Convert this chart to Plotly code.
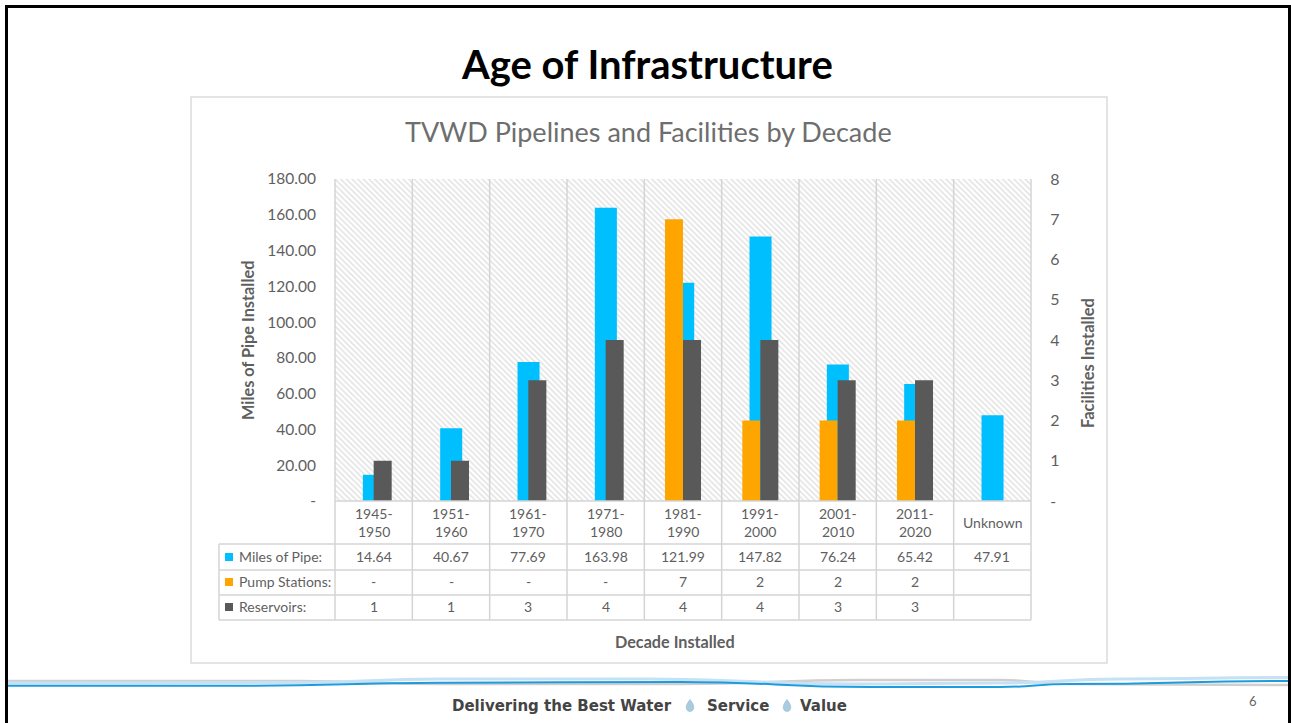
import plotly.graph_objects as go

categories = ["1945-1950", "1951-1960", "1961-1970", "1971-1980", "1981-1990",
              "1991-2000", "2001-2010", "2011-2020", "Unknown"]
miles_of_pipe = [14.64, 40.67, 77.69, 163.98, 121.99, 147.82, 76.24, 65.42, 47.91]
pump_stations = [0, 0, 0, 0, 7, 2, 2, 2, None]
reservoirs = [1, 1, 3, 4, 4, 4, 3, 3, None]
miles_labels = ["14.64", "40.67", "77.69", "163.98", "121.99", "147.82", "76.24", "65.42", "47.91"]
pump_labels = ["-", "-", "-", "-", "7", "2", "2", "2", ""]
res_labels = ["1", "1", "3", "4", "4", "4", "3", "3", ""]
left_ticks = [0, 20, 40, 60, 80, 100, 120, 140, 160, 180]
left_labels = ["-", "20.00", "40.00", "60.00", "80.00", "100.00", "120.00", "140.00", "160.00", "180.00"]
right_ticks = [0, 1, 2, 3, 4, 5, 6, 7, 8]
right_labels = ["-", "1", "2", "3", "4", "5", "6", "7", "8"]
band = [180] * len(categories)

W, H = 1291, 723
BLUE, ORANGE, GRAY = "#00BFFF", "#FFA500", "#595959"
TXT = "#5F5F5F"
LINE = "#D4D4D4"
FONT = "Lato"
PL, PR, PT, PB = 335, 1031, 179, 501


def px(x):
    return x / W


def py(y):
    return 1 - y / H


def rect(x0, y0, x1, y1, line=None, fill=None, w=1, layer="above"):
    return dict(type="rect", xref="paper", yref="paper", x0=px(x0), x1=px(x1), y0=py(y0), y1=py(y1),
                line=dict(color=line or "rgba(0,0,0,0)", width=w if line else 0),
                fillcolor=fill or "rgba(0,0,0,0)", layer=layer)


def hline(x0, x1, y, color=LINE, w=1.5):
    return dict(type="line", xref="paper", yref="paper", x0=px(x0), x1=px(x1), y0=py(y), y1=py(y),
                line=dict(color=color, width=w), layer="above")


def vline(x, y0, y1, color=LINE, w=1.5):
    return dict(type="line", xref="paper", yref="paper", x0=px(x), x1=px(x), y0=py(y0), y1=py(y1),
                line=dict(color=color, width=w), layer="above")


def wave(points, color, w):
    d = "M %.5f,%.5f" % (px(points[0][0]), py(points[0][1]))
    for a, b in zip(points, points[1:]):
        mx = (a[0] + b[0]) / 2
        d += " C %.5f,%.5f %.5f,%.5f %.5f,%.5f" % (px(mx), py(a[1]), px(mx), py(b[1]), px(b[0]), py(b[1]))
    return dict(type="path", path=d, xref="paper", yref="paper", line=dict(color=color, width=w), layer="above")


def drop(cx, cy):
    s = 6
    d = "M %.5f,%.5f C %.5f,%.5f %.5f,%.5f %.5f,%.5f C %.5f,%.5f %.5f,%.5f %.5f,%.5f Z" % (
        px(cx), py(cy - s),
        px(cx + s), py(cy + 1), px(cx + 4), py(cy + s), px(cx), py(cy + s),
        px(cx - 4), py(cy + s), px(cx - s), py(cy + 1), px(cx), py(cy - s))
    return dict(type="path", path=d, xref="paper", yref="paper", fillcolor="#A9CBE0",
                line=dict(color="#8FB3CA", width=0.5), layer="above")


fig = go.Figure()
fig.add_bar(x=categories, y=band, yaxis="y", width=1, offset=-0.5, hoverinfo="skip",
            marker=dict(color="white", line=dict(width=0),
                        pattern=dict(shape="\\", size=4, solidity=0.42, fgcolor="#C8C8C8", bgcolor="white")))
fig.add_bar(x=categories, y=miles_of_pipe, name="Miles of Pipe", yaxis="y", width=0.285, offset=-0.14,
            marker=dict(color=BLUE, line=dict(width=0)))
fig.add_bar(x=categories, y=pump_stations, name="Pump Stations", yaxis="y2", width=0.233, offset=-0.233,
            marker=dict(color=ORANGE, line=dict(width=0)))
fig.add_bar(x=categories, y=reservoirs, name="Reservoirs", yaxis="y2", width=0.233, offset=0,
            marker=dict(color=GRAY, line=dict(width=0)))

shapes = []
# page frame and chart frame
shapes.append(rect(6.5, 6.5, 1289.5, 760, line="#000000", w=3))
shapes.append(rect(191, 97, 1107, 663, line="#DCDCDC", w=1.5))
# column separators
step = (PR - PL) / len(categories)
for i in range(len(categories) + 1):
    xx = PL + i * step
    shapes.append(vline(xx, PT, 620))
shapes.append(vline(219, 544, 620))
shapes.append(hline(PL, PR, 501))
for yy in (544, 570, 595, 620):
    shapes.append(hline(219, PR, yy))
# legend keys
for yy, c in ((557, BLUE), (582, ORANGE), (607, GRAY)):
    shapes.append(rect(225, yy - 4, 233, yy + 4, fill=c))
# footer waves
shapes.append(wave([(8, 681), (300, 681), (440, 684), (680, 684), (860, 680), (1000, 680), (1070, 684), (1288, 685)],
                   "#CFCFCF", 2.5))
shapes.append(wave([(8, 683), (300, 682.5), (440, 679), (650, 679), (850, 684), (1000, 683), (1120, 679), (1288, 677.5)],
                   "#C4E1F5", 3))
shapes.append(wave([(8, 685.7), (250, 685.7), (440, 682.7), (680, 682), (870, 687), (1000, 687), (1070, 684), (1288, 681)],
                   "#1E9BDC", 2))
shapes.append(drop(690, 705.5))
shapes.append(drop(787, 705.5))

ann = []


def note(x, y, text, size=14, color=TXT, anchor="center", bold=False, angle=0, family=FONT):
    ann.append(dict(x=px(x), y=py(y), xref="paper", yref="paper", text="<b>%s</b>" % text if bold else text,
                    showarrow=False, xanchor=anchor, yanchor="middle", textangle=angle,
                    font=dict(family=family, size=size, color=color)))


note(647, 63.5, "Age of Infrastructure", size=40, color="#000000", bold=True)
note(649, 131, "TVWD Pipelines and Facilities by Decade", size=27, color="#6E6E6E")
note(247, 341, "Miles of Pipe Installed", size=16.3, color=TXT, bold=True, angle=-90)
note(1088, 363, "Facilities Installed", size=16.5, color=TXT, bold=True, angle=-90)
note(675, 641.5, "Decade Installed", size=16.2, color=TXT, bold=True)
note(237, 556, "Miles of Pipe:", size=14, anchor="left")
note(237, 581, "Pump Stations:", size=14, anchor="left")
note(237, 606, "Reservoirs:", size=14, anchor="left")
for yy, row in ((556, miles_labels), (581, pump_labels), (606, res_labels)):
    for cat, label in zip(categories, row):
        ann.append(dict(x=cat, xref="x", y=py(yy), yref="paper", text=label, showarrow=False, yanchor="middle",
                        font=dict(family=FONT, size=14, color=TXT)))
for cat in categories:
    parts = cat.split("-")
    if len(parts) == 2:
        lines = [(parts[0] + "-", 513), (parts[1], 531.5)]
    else:
        lines = [(cat, 522)]
    for text, yy in lines:
        ann.append(dict(x=cat, xref="x", y=py(yy), yref="paper", text=text, showarrow=False, yanchor="middle",
                        font=dict(family=FONT, size=14, color=TXT)))
FOOT = "#444444"
note(450, 706, "Delivering the Best Water", size=15, color=FOOT, anchor="left", bold=True, family="DejaVu Sans")
note(705, 706, "Service", size=15, color=FOOT, anchor="left", bold=True, family="DejaVu Sans")
note(798, 706, "Value", size=15, color=FOOT, anchor="left", bold=True, family="DejaVu Sans")
note(1253, 700.5, "6", size=13, color="#666666")

fig.update_layout(
    width=W, height=H, autosize=False, margin=dict(l=0, r=0, t=0, b=0),
    paper_bgcolor="white", plot_bgcolor="white", barmode="overlay", showlegend=False,
    font=dict(family=FONT, size=14, color=TXT),
    shapes=shapes, annotations=ann,
    xaxis=dict(domain=[px(PL), px(PR)], type="category", categoryorder="array", categoryarray=categories,
               range=[-0.5, 8.5], showgrid=False, zeroline=False, showline=False, ticks="",
               showticklabels=False, anchor="y", automargin=False),
    yaxis=dict(domain=[py(PB), py(PT)], range=[0, 180], tickvals=left_ticks, ticktext=left_labels,
               showgrid=False, zeroline=False, showline=False, ticks="outside", ticklen=15, automargin=False,
               tickcolor="rgba(0,0,0,0)", tickfont=dict(family=FONT, size=15.5, color=TXT)),
    yaxis2=dict(domain=[py(PB), py(PT)], overlaying="y", side="right", range=[0, 8], tickvals=right_ticks,
                ticktext=right_labels, showgrid=False, zeroline=False, showline=False, ticks="outside",
                ticklen=15, tickcolor="rgba(0,0,0,0)", tickfont=dict(family=FONT, size=16, color=TXT),
                anchor="x", automargin=False),
)
fig.write_html("out.html", config=dict(displayModeBar=False),
               post_script="document.body.style.margin='0';document.body.style.overflow='hidden';")
